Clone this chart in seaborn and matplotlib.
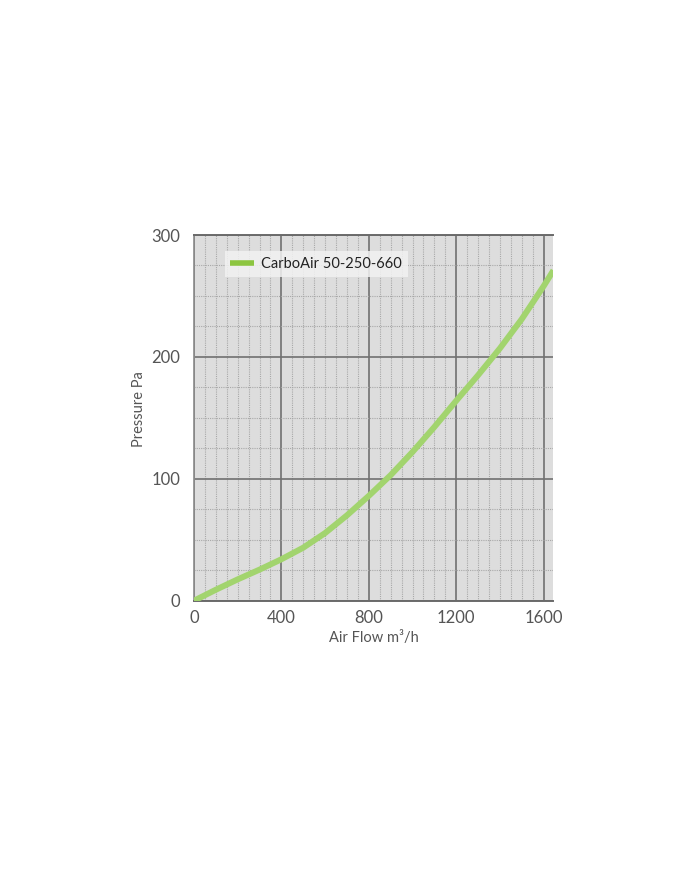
import matplotlib
matplotlib.use("Agg")
import matplotlib.pyplot as plt
import seaborn as sns
import pandas as pd
from matplotlib.ticker import MultipleLocator

# Kennlinie
air_flow = [0, 100, 200, 300, 400, 500, 600, 700, 800, 900, 1000, 1100, 1200, 1300, 1400, 1500, 1600, 1645]
pressure = [0, 9, 17.5, 25.5, 34, 43.5, 55.5, 70, 86, 103, 122, 142.5, 164, 185, 207, 231, 258, 271]
series_name = "CarboAir 50-250-660"

x_ticks = [0, 400, 800, 1200, 1600]
y_ticks = [0, 100, 200, 300]

sns.set_theme(style="white")
plt.rcParams['font.family'] = ['Lato', 'DejaVu Sans']

df = pd.DataFrame({"air_flow": air_flow, "pressure": pressure})

fig = plt.figure(figsize=(7, 8.69), dpi=100)
ax = fig.add_axes([194 / 700, 1 - 600.7 / 869, 359 / 700, 365.7 / 869])
ax.set_facecolor("#dddddd")

sns.lineplot(data=df, x="air_flow", y="pressure", color="#a2d46e", linewidth=4.3,
             ax=ax, label=series_name, zorder=3, solid_capstyle="butt")

ax.set_xlim(0, 1643)
ax.set_ylim(0, 300)
ax.set_xticks(x_ticks)
ax.set_yticks(y_ticks)
ax.xaxis.set_minor_locator(MultipleLocator(50))
ax.yaxis.set_minor_locator(MultipleLocator(25))

ax.grid(which="major", color="#707070", linewidth=1.2, linestyle="-", zorder=1)
ax.grid(which="minor", color="#a8a8a8", linewidth=0.8, linestyle=(0, (1, 1)), zorder=0)
ax.set_axisbelow(True)

ax.tick_params(which="both", length=0, labelsize=12, labelcolor="#555555")
ax.tick_params(axis="y", pad=10)
ax.tick_params(axis="x", pad=7)

for side in ["top", "bottom"]:
    ax.spines[side].set_color("#6a6a6a")
    ax.spines[side].set_linewidth(1.4)
ax.spines["left"].set_color("#8a8a8a")
ax.spines["left"].set_linewidth(1.2)
ax.spines["right"].set_visible(False)

ax.set_xlabel("Air Flow m³/h", fontsize=10.5, color="#555555", labelpad=3)
ax.set_ylabel("Pressure Pa", fontsize=10.5, color="#555555")
ax.yaxis.set_label_coords(-0.135, 0.525)

leg = ax.legend(loc="upper left", bbox_to_anchor=(0.085, 0.955), frameon=True, fontsize=10.5,
                handlelength=1.6, handletextpad=0.5, borderpad=0.4, borderaxespad=0,
                fancybox=False, framealpha=0.85)
leg.get_frame().set_facecolor("#f2f2f2")
leg.get_frame().set_edgecolor("none")
for text in leg.get_texts():
    text.set_color("#222222")
for line in leg.get_lines():
    line.set_color("#8cc540")
    line.set_linewidth(4)

fig.savefig("out.png", dpi=100, facecolor="white")
